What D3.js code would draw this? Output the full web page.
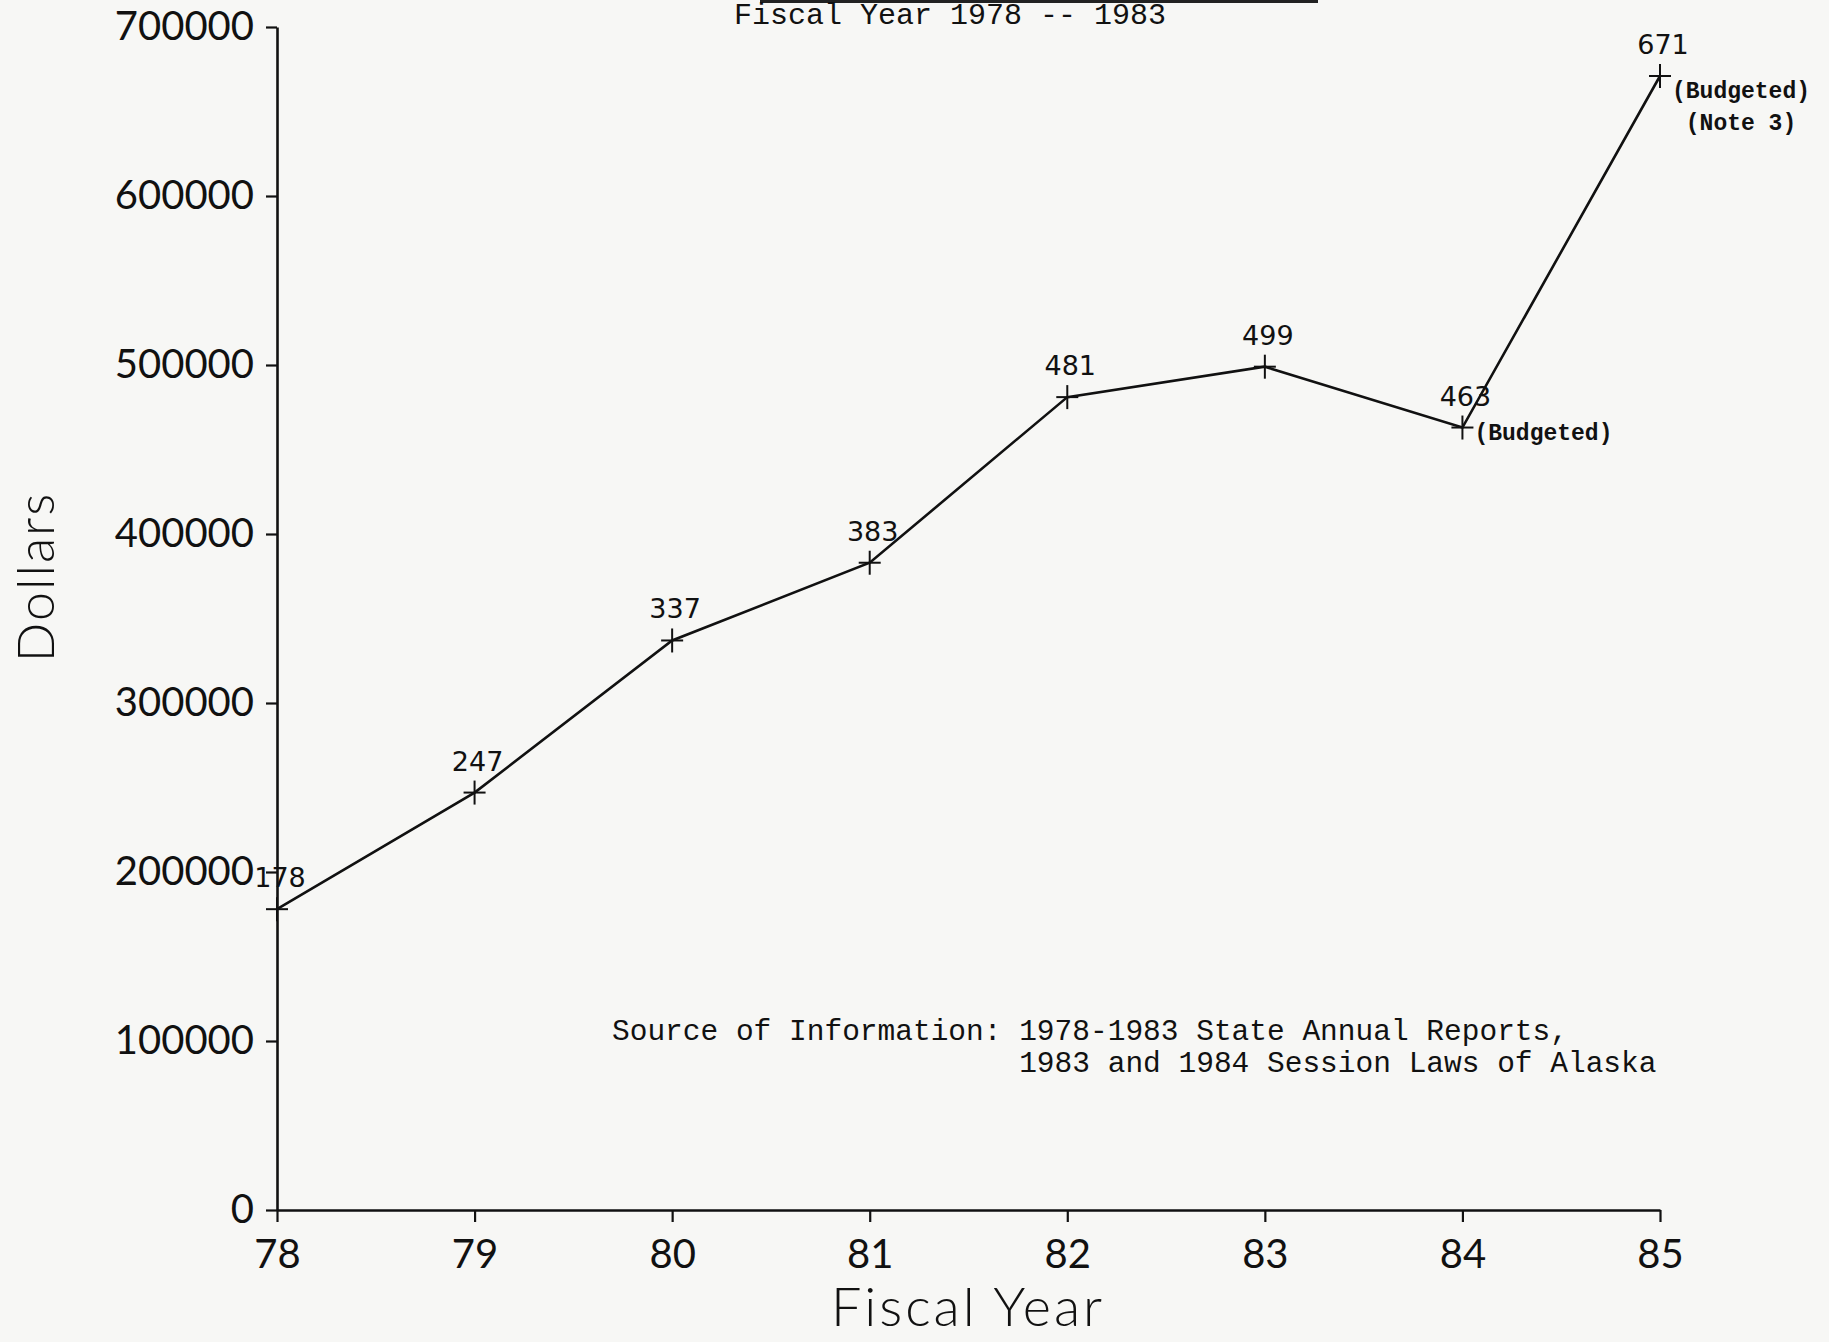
<!DOCTYPE html>
<html>
<head>
<meta charset="utf-8">
<script src="https://cdn.jsdelivr.net/npm/d3@7"></script>
<style>
  html, body { margin: 0; padding: 0; background: #f7f7f5; }
  svg { display: block; }
  .axis path, .axis line { stroke: #111; stroke-width: 2.2px; }
  .axis text { font-family: Lato, "DejaVu Sans", sans-serif; font-weight: 400; font-size: 40px; fill: #111; }
  .mono { font-family: "Liberation Mono", "DejaVu Sans Mono", monospace; fill: #111; }
</style>
</head>
<body>
<script>
// values in thousands of dollars, as labelled on the chart
const years = [78, 79, 80, 81, 82, 83, 84, 85];
const values = [178, 247, 337, 383, 481, 499, 463, 671];
const yTicks = [0, 100000, 200000, 300000, 400000, 500000, 600000, 700000];
const notes = [
  { year: 84, lines: ["(Budgeted)"] },
  { year: 85, lines: ["(Budgeted)", " (Note 3)"] }
];
const sourceLines = [
  "Source of Information: 1978-1983 State Annual Reports,",
  "                       1983 and 1984 Session Laws of Alaska"
];

const W = 1829, H = 1342;
const margin = { top: 27, right: 169, bottom: 132, left: 277 };

const svg = d3.select("body")
  .append("svg")
    .attr("width", W)
    .attr("height", H);

const x = d3.scaleLinear().domain([78, 85]).range([margin.left, W - margin.right]);
const y = d3.scaleLinear().domain([0, 700000]).range([H - margin.bottom, margin.top]);

// clipped title rule at the very top of the scan
svg.append("line")
  .attr("x1", 760).attr("x2", 1318)
  .attr("y1", 1.5).attr("y2", 1.5)
  .style("stroke", "#222").style("stroke-width", 3);

svg.append("text")
  .attr("class", "mono")
  .attr("x", 950).attr("y", 24)
  .attr("text-anchor", "middle")
  .style("font-size", "30px")
  .text("Fiscal Year 1978 -- 1983");

// Axes
svg.append("g")
  .attr("class", "axis")
  .attr("transform", `translate(${margin.left},0)`)
  .call(d3.axisLeft(y).tickValues(yTicks).tickFormat(d3.format("d"))
    .tickSize(11).tickSizeOuter(0).tickPadding(12));

svg.append("g")
  .attr("class", "axis")
  .attr("transform", `translate(0,${H - margin.bottom})`)
  .call(d3.axisBottom(x).tickValues(years).tickFormat(d3.format("d"))
    .tickSize(12).tickSizeOuter(0).tickPadding(18));

svg.selectAll(".axis .domain").style("stroke-width", 2.6);

// Axis titles
svg.append("text")
  .attr("x", 968).attr("y", 1326)
  .attr("text-anchor", "middle")
  .style("font-family", "Lato, sans-serif").style("font-weight", 300)
  .style("font-size", "54px").style("letter-spacing", "3px").style("fill", "#111")
  .text("Fiscal Year");

svg.append("text")
  .attr("transform", "translate(54,577) rotate(-90)")
  .attr("text-anchor", "middle")
  .style("font-family", "Lato, sans-serif").style("font-weight", 300)
  .style("font-size", "52px").style("letter-spacing", "2px").style("fill", "#111")
  .text("Dollars");

// Line
const pts = years.map((yr, i) => ({ year: yr, value: values[i] * 1000, label: values[i] }));

svg.append("path")
  .datum(pts)
  .attr("fill", "none")
  .attr("stroke", "#111")
  .attr("stroke-width", 2.6)
  .attr("d", d3.line().x(d => x(d.year)).y(d => y(d.value)));

// Cross markers
const mk = svg.selectAll(".mk").data(pts).join("g")
  .attr("transform", d => `translate(${x(d.year)},${y(d.value)})`);
mk.append("line").attr("x1", -11).attr("x2", 11).style("stroke", "#111").style("stroke-width", 2);
mk.append("line").attr("y1", -12).attr("y2", 12).style("stroke", "#111").style("stroke-width", 2);

// Value labels
svg.selectAll(".vl").data(pts).join("text")
  .attr("x", d => x(d.year) + 3)
  .attr("y", d => y(d.value) - 22)
  .attr("text-anchor", "middle")
  .style("font-family", "'DejaVu Sans', sans-serif")
  .style("font-size", "27px").style("fill", "#111")
  .text(d => d.label);

// Budget notes (the 85 note sits a little lower on the sheet)
notes.forEach(n => {
  const p = pts.find(d => d.year === n.year);
  const drop = n.year === 85 ? 22 : 12;
  n.lines.forEach((t, i) => {
    svg.append("text")
      .attr("class", "mono")
      .attr("x", x(n.year) + 12)
      .attr("y", y(p.value) + drop + i * 32)
      .style("font-size", "23px").style("font-weight", "bold")
      .style("white-space", "pre")
      .attr("xml:space", "preserve")
      .text(t);
  });
});

// Source note
svg.append("g").selectAll("text").data(sourceLines).join("text")
  .attr("class", "mono")
  .attr("x", 612)
  .attr("y", (d, i) => 1040 + i * 32)
  .attr("xml:space", "preserve")
  .style("white-space", "pre")
  .style("font-size", "29.5px")
  .text(d => d);
</script>
</body>
</html>
